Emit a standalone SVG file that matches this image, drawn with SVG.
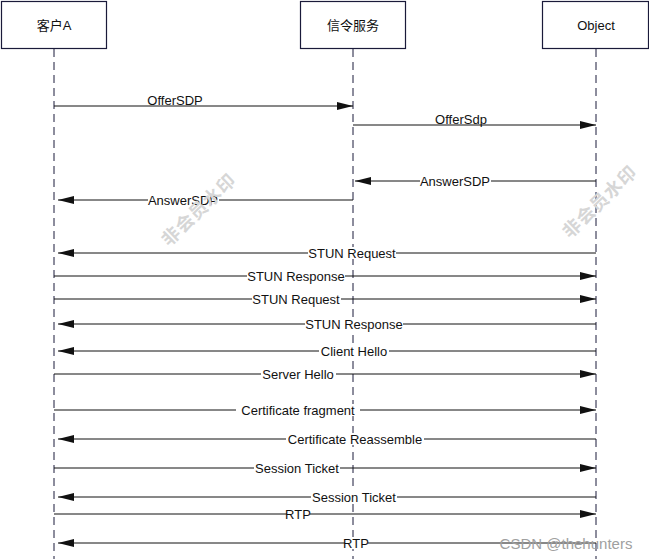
<svg xmlns="http://www.w3.org/2000/svg" width="649" height="559" viewBox="0 0 649 559">
<style>
.box{fill:#fff;stroke:#1a1a3a;stroke-width:1.2}
.life{stroke:#1a1a3a;stroke-width:1;stroke-dasharray:8 5;fill:none}
.msg{stroke:#111;stroke-width:1;fill:none;marker-end:url(#ah)}
.t{font-family:"Liberation Sans","Noto Sans CJK SC",sans-serif;font-size:13px;fill:#111;text-anchor:middle}
.bg{fill:#fff}
.wm{font-family:"Noto Sans CJK SC",sans-serif;font-size:18px;font-weight:bold;fill:#d6d6d6;text-anchor:middle;letter-spacing:1px}
</style>
<defs>
<marker id="ah" markerUnits="userSpaceOnUse" markerWidth="16" markerHeight="8" refX="16" refY="4" orient="auto">
<path d="M0,0 L16,4 L0,8 z" fill="#111"/>
</marker>
</defs>
<rect width="649" height="559" fill="#fff"/>
<g id="lifelines">
<line class="life" x1="54" y1="49" x2="54" y2="559"/>
<line class="life" x1="353" y1="49" x2="353" y2="559"/>
<line class="life" x1="596" y1="49" x2="596" y2="559"/>
</g>
<g id="node-clientA"><rect class="box" x="1.5" y="1.5" width="105" height="47"/><text class="t" x="54" y="30">客户A</text></g>
<g id="node-signal"><rect class="box" x="300.5" y="1.5" width="105" height="47"/><text class="t" x="353" y="30">信令服务</text></g>
<g id="node-object"><rect class="box" x="542.5" y="1.5" width="106" height="47"/><text class="t" x="596" y="30">Object</text></g>
<g id="connectors">
<line class="msg" x1="54" y1="106" x2="353" y2="106"/>
<text class="t" x="175" y="105">OfferSDP</text>
<line class="msg" x1="353" y1="125" x2="596" y2="125"/>
<text class="t" x="461" y="124">OfferSdp</text>
<line class="msg" x1="596" y1="181" x2="355" y2="181"/>
<rect class="bg" x="420" y="175" width="71" height="12"/><text class="t" x="455" y="186">AnswerSDP</text>
<line class="msg" x1="353" y1="200" x2="58" y2="200"/>
<rect class="bg" x="148" y="194" width="71" height="12"/><text class="t" x="183" y="205">AnswerSDP</text>
<line class="msg" x1="596" y1="253" x2="58" y2="253"/>
<rect class="bg" x="308" y="247" width="88" height="12"/><text class="t" x="352" y="258">STUN Request</text>
<line class="msg" x1="54" y1="276" x2="596" y2="276"/>
<rect class="bg" x="247" y="270" width="98" height="12"/><text class="t" x="296" y="281">STUN Response</text>
<line class="msg" x1="54" y1="299" x2="596" y2="299"/>
<rect class="bg" x="252" y="293" width="89" height="12"/><text class="t" x="296" y="304">STUN Request</text>
<line class="msg" x1="596" y1="324" x2="58" y2="324"/>
<rect class="bg" x="305" y="318" width="98" height="12"/><text class="t" x="354" y="329">STUN Response</text>
<line class="msg" x1="596" y1="351" x2="58" y2="351"/>
<rect class="bg" x="319" y="345" width="70" height="12"/><text class="t" x="354" y="356">Client Hello</text>
<line class="msg" x1="54" y1="374" x2="596" y2="374"/>
<rect class="bg" x="261" y="368" width="75" height="12"/><text class="t" x="298" y="379">Server Hello</text>
<line class="msg" x1="54" y1="410" x2="596" y2="410"/>
<rect class="bg" x="236" y="404" width="124" height="12"/><text class="t" x="298" y="415">Certificate fragment</text>
<line class="msg" x1="596" y1="439" x2="58" y2="439"/>
<rect class="bg" x="286" y="433" width="138" height="12"/><text class="t" x="355" y="444">Certificate Reassemble</text>
<line class="msg" x1="54" y1="468" x2="596" y2="468"/>
<rect class="bg" x="254" y="462" width="86" height="12"/><text class="t" x="297" y="473">Session Ticket</text>
<line class="msg" x1="596" y1="497" x2="58" y2="497"/>
<rect class="bg" x="311" y="491" width="86" height="12"/><text class="t" x="354" y="502">Session Ticket</text>
<line class="msg" x1="54" y1="514" x2="596" y2="514"/>
<rect class="bg" x="287" y="508" width="23" height="12"/><text class="t" x="298" y="519">RTP</text>
<line class="msg" x1="596" y1="543" x2="58" y2="543"/>
<rect class="bg" x="345" y="537" width="23" height="12"/><text class="t" x="356" y="548">RTP</text>
</g>
<g id="watermarks">
<text class="wm" transform="translate(199,210) rotate(-44)" y="6">非会员水印</text>
<text class="wm" transform="translate(600,202) rotate(-44)" y="6">非会员水印</text>
<text x="566" y="549" font-family="Liberation Sans,sans-serif" font-size="15" fill="#a0a0a0" text-anchor="middle">CSDN @thehunters</text>
</g>
</svg>
